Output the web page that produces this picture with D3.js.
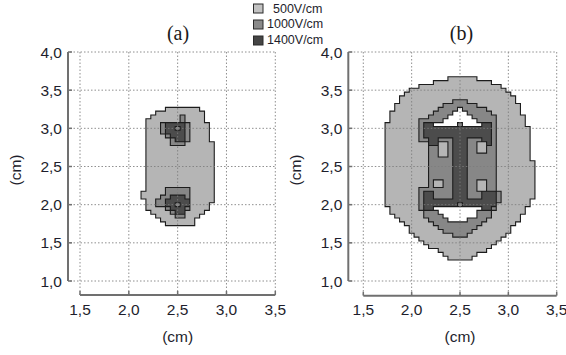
<!DOCTYPE html>
<html>
<head>
<meta charset="utf-8">
<script src="https://cdn.jsdelivr.net/npm/d3@7/dist/d3.min.js"></script>
<style>
  body { margin: 0; background: #fff; }
  svg { display: block; font-family: "Liberation Sans", Arial, sans-serif; }
</style>
</head>
<body>
<svg id="chart" width="566" height="355"></svg>
<script>
// Field-strength thresholds (legend) and axis ticks
const thresholds = ["500V/cm", "1000V/cm", "1400V/cm"];
const xTicks = [1.5, 2.0, 2.5, 3.0, 3.5];
const yTicks = [1.0, 1.5, 2.0, 2.5, 3.0, 3.5, 4.0];
const panelTitles = ["(a)", "(b)"];
const cellSize = 0.05; // cm, spacing of the computation grid

// Blocks of grid cells [xFrom, xTo, yFrom, yTo] in cm (cell centres, inclusive)
// Panel (a): two electrodes
const a500 = [
  [2.40, 2.70, 3.25, 3.25], [2.30, 2.75, 3.20, 3.20], [2.25, 2.75, 3.15, 3.15],
  [2.20, 2.75, 3.10, 3.10], [2.20, 2.80, 2.85, 3.05], [2.20, 2.85, 2.20, 2.80],
  [2.15, 2.85, 2.10, 2.15], [2.20, 2.85, 2.05, 2.05], [2.20, 2.80, 1.95, 2.00],
  [2.25, 2.75, 1.90, 1.90], [2.30, 2.70, 1.85, 1.85], [2.35, 2.65, 1.80, 1.80],
  [2.40, 2.65, 1.75, 1.75]
];
const a1000 = [
  [2.55, 2.55, 3.10, 3.15], [2.35, 2.60, 2.95, 3.05], [2.40, 2.60, 2.90, 2.90],
  [2.45, 2.60, 2.85, 2.85], [2.45, 2.55, 2.80, 2.80],
  [2.40, 2.60, 2.15, 2.20], [2.35, 2.60, 2.10, 2.10], [2.30, 2.60, 2.00, 2.05],
  [2.40, 2.60, 1.95, 1.95], [2.45, 2.55, 1.90, 1.90], [2.50, 2.55, 1.85, 1.85]
];
const a1400 = [
  [2.40, 2.55, 2.95, 3.05], [2.45, 2.55, 2.90, 2.90], [2.50, 2.55, 2.85, 2.85],
  [2.45, 2.55, 2.10, 2.10], [2.40, 2.60, 2.00, 2.05], [2.45, 2.55, 1.95, 1.95],
  [2.50, 2.55, 1.90, 1.90]
];
const aBelow500 = [];
const aPatch1000 = [[2.50, 2.50, 3.00, 3.00], [2.50, 2.50, 2.00, 2.00]];

// Panel (b): I-shaped electrode arrangement
const b500 = [
  [2.40, 2.65, 3.65, 3.65], [2.25, 2.80, 3.60, 3.60], [2.10, 2.90, 3.55, 3.55],
  [2.00, 2.95, 3.50, 3.50], [1.95, 3.00, 3.45, 3.45], [1.90, 3.05, 3.35, 3.40],
  [1.85, 3.10, 3.25, 3.30], [1.80, 3.10, 3.20, 3.20], [1.80, 3.15, 3.10, 3.15],
  [1.75, 3.15, 3.05, 3.05], [1.75, 3.20, 2.60, 3.00], [1.75, 3.25, 2.10, 2.55],
  [1.75, 3.20, 2.00, 2.05], [1.80, 3.15, 1.90, 1.95], [1.85, 3.10, 1.85, 1.85],
  [1.90, 3.10, 1.80, 1.80], [1.95, 3.05, 1.75, 1.75], [2.00, 3.00, 1.65, 1.70],
  [2.05, 2.95, 1.60, 1.60], [2.10, 2.90, 1.55, 1.55], [2.15, 2.85, 1.50, 1.50],
  [2.20, 2.80, 1.45, 1.45], [2.30, 2.75, 1.40, 1.40], [2.35, 2.65, 1.35, 1.35],
  [2.40, 2.60, 1.30, 1.30]
];
const b1000 = [
  [2.45, 2.55, 3.35, 3.35], [2.35, 2.65, 3.30, 3.30], [2.30, 2.75, 3.25, 3.25],
  [2.25, 2.80, 3.20, 3.20], [2.20, 2.85, 3.15, 3.15], [2.10, 2.85, 2.85, 3.10],
  [2.20, 2.85, 2.25, 2.80], [2.10, 2.85, 2.20, 2.20], [2.10, 2.90, 2.05, 2.15],
  [2.10, 2.85, 1.95, 2.00], [2.15, 2.80, 1.85, 1.90], [2.20, 2.75, 1.80, 1.80],
  [2.25, 2.70, 1.75, 1.75], [2.30, 2.65, 1.70, 1.70], [2.35, 2.60, 1.65, 1.65],
  [2.45, 2.55, 1.60, 1.60]
];
const b1400 = [
  [2.15, 2.20, 3.05, 3.05], [2.75, 2.80, 3.05, 3.05], [2.15, 2.80, 2.90, 3.00],
  [2.20, 2.25, 2.80, 2.85], [2.75, 2.80, 2.80, 2.85], [2.45, 2.55, 2.10, 2.85],
  [2.15, 2.20, 1.95, 2.15], [2.75, 2.85, 2.10, 2.15], [2.15, 2.85, 2.00, 2.05],
  [2.75, 2.80, 1.95, 1.95]
];
const bBelow500 = [
  [2.50, 2.50, 3.25, 3.25], [2.45, 2.55, 3.20, 3.20], [2.40, 2.60, 3.15, 3.15],
  [2.35, 2.65, 3.10, 3.10], [2.25, 2.70, 3.05, 3.05],
  [2.25, 2.70, 1.95, 1.95], [2.30, 2.65, 1.90, 1.90], [2.35, 2.65, 1.85, 1.85],
  [2.40, 2.55, 1.80, 1.80]
];
const bPatch500 = [
  [2.30, 2.35, 2.65, 2.80], [2.70, 2.75, 2.70, 2.80],
  [2.25, 2.30, 2.25, 2.30], [2.70, 2.75, 2.20, 2.30]
];
const bPatch1000 = [[2.50, 2.50, 3.05, 3.05], [2.50, 2.50, 2.00, 2.00]];

const fills = ["none", "#b5b5b5", "#878787", "#4c4c4c"];
const legendFills = ["#c2c2c2", "#8a8a8a", "#454545"];

const svg = d3.select("#chart");
const fmt = d3.formatLocale({decimal: ",", thousands: ".", grouping: [3], currency: ["", ""]}).format(".1f");

const panels = [
  { title: panelTitles[0], x: [80, 275.3], yAxisX: 68, xAxisY: 295, titleX: 178, yLabelX: 21,
    layers: [[a500, 1], [a1000, 2], [a1400, 3], [aBelow500, 0], [aPatch1000, 2]] },
  { title: panelTitles[1], x: [363.3, 556.7], yAxisX: 348.3, xAxisY: 295.7, titleX: 461.5, yLabelX: 301,
    layers: [[b500, 1], [b1000, 2], [b1400, 3], [bBelow500, 0], [bPatch500, 1], [bPatch1000, 2]] }
];

const x0 = 1.5, y0 = 1.0;
const nx = Math.round((3.5 - x0) / cellSize) + 1;
const ny = Math.round((4.0 - y0) / cellSize) + 1;

panels.forEach(p => {
  const xs = d3.scaleLinear().domain([1.5, 3.5]).range(p.x);
  const ys = d3.scaleLinear().domain([1.0, 4.0]).range([281, 52]);
  const g = svg.append("g");

  // rasterise the level blocks onto the grid
  const grid = Array.from({length: nx}, () => new Array(ny).fill(0));
  p.layers.forEach(([blocks, level]) => {
    blocks.forEach(([xa, xb, ya, yb]) => {
      const i0 = Math.round((xa - x0) / cellSize), i1 = Math.round((xb - x0) / cellSize);
      const j0 = Math.round((ya - y0) / cellSize), j1 = Math.round((yb - y0) / cellSize);
      for (let i = i0; i <= i1; i++) for (let j = j0; j <= j1; j++) grid[i][j] = level;
    });
  });
  const lev = (i, j) => (i < 0 || j < 0 || i >= nx || j >= ny) ? 0 : grid[i][j];
  const cx = i => x0 + i * cellSize, cy = j => y0 + j * cellSize, h = cellSize / 2;

  const cells = [];
  for (let i = 0; i < nx; i++) for (let j = 0; j < ny; j++) if (grid[i][j] > 0) cells.push({i, j, v: grid[i][j]});

  g.append("g").attr("shape-rendering", "crispEdges")
    .selectAll("rect").data(cells).join("rect")
    .attr("x", d => xs(cx(d.i) - h))
    .attr("width", d => xs(cx(d.i) + h) - xs(cx(d.i) - h))
    .attr("y", d => ys(cy(d.j) + h))
    .attr("height", d => ys(cy(d.j) - h) - ys(cy(d.j) + h))
    .attr("fill", d => fills[d.v]);

  // contour outlines: edges between cells of different level
  const path = d3.path();
  for (let i = -1; i < nx; i++) for (let j = -1; j < ny; j++) {
    const v = lev(i, j);
    if (v !== lev(i + 1, j)) { path.moveTo(xs(cx(i) + h), ys(cy(j) - h)); path.lineTo(xs(cx(i) + h), ys(cy(j) + h)); }
    if (v !== lev(i, j + 1)) { path.moveTo(xs(cx(i) - h), ys(cy(j) + h)); path.lineTo(xs(cx(i) + h), ys(cy(j) + h)); }
  }
  g.append("path").attr("d", path.toString()).attr("fill", "none")
    .attr("stroke", "#1c1c1c").attr("stroke-width", 1.1).attr("stroke-linecap", "square");

  // dotted grid
  const grd = g.append("g").attr("stroke", "#7d7d7d").attr("stroke-width", 1)
    .attr("stroke-dasharray", "1.5,2").attr("opacity", 0.85);
  grd.selectAll("line.v").data(xTicks).join("line").attr("class", "v")
    .attr("x1", d => xs(d)).attr("x2", d => xs(d)).attr("y1", ys(4.0)).attr("y2", p.xAxisY);
  grd.selectAll("line.h").data(yTicks).join("line").attr("class", "h")
    .attr("x1", p.yAxisX + 2).attr("x2", xs(3.5)).attr("y1", d => ys(d)).attr("y2", d => ys(d));

  // axes
  const ax = g.append("g").attr("stroke", "#707070").attr("stroke-width", 2).attr("fill", "none");
  ax.append("line").attr("x1", p.yAxisX).attr("x2", p.yAxisX).attr("y1", ys(4.0)).attr("y2", ys(1.0));
  ax.selectAll("line.yt").data(yTicks).join("line").attr("class", "yt")
    .attr("x1", p.yAxisX).attr("x2", p.yAxisX + 4).attr("y1", d => ys(d)).attr("y2", d => ys(d)).attr("stroke-width", 1.5);
  ax.append("line").attr("x1", xs(1.5)).attr("x2", xs(3.5)).attr("y1", p.xAxisY).attr("y2", p.xAxisY);
  ax.selectAll("line.xt").data(xTicks).join("line").attr("class", "xt")
    .attr("x1", d => xs(d)).attr("x2", d => xs(d)).attr("y1", p.xAxisY).attr("y2", p.xAxisY - 4).attr("stroke-width", 1.5);

  // tick labels
  g.selectAll("text.yl").data(yTicks).join("text").attr("class", "yl")
    .attr("x", p.yAxisX - 6).attr("y", d => ys(d) + 5.5).attr("text-anchor", "end")
    .attr("font-size", 15.5).attr("fill", "#1e1e2c").text(d => fmt(d));
  g.selectAll("text.xl").data(xTicks).join("text").attr("class", "xl")
    .attr("x", d => xs(d)).attr("y", 315).attr("text-anchor", "middle")
    .attr("font-size", 15.5).attr("fill", "#1e1e2c").text(d => fmt(d));

  // axis titles and panel title
  g.append("text").attr("x", xs(2.5)).attr("y", 342).attr("text-anchor", "middle")
    .attr("font-size", 15.5).attr("fill", "#1e1e2c").text("(cm)");
  g.append("text").attr("transform", `translate(${p.yLabelX},170) rotate(-90)`)
    .attr("text-anchor", "middle").attr("font-size", 15.5).attr("fill", "#1e1e2c").text("(cm)");
  g.append("text").attr("x", p.titleX).attr("y", 40).attr("text-anchor", "middle")
    .attr("font-family", "'Liberation Serif', 'Times New Roman', serif")
    .attr("font-size", 20).attr("fill", "#1a1a1a").text(p.title);
});

// legend
const lg = svg.append("g");
thresholds.forEach((t, k) => {
  lg.append("rect").attr("x", 253.5).attr("y", 4 + k * 16).attr("width", 9.5).attr("height", 9)
    .attr("fill", legendFills[k]).attr("stroke", "#2a2a2a").attr("stroke-width", 1);
  lg.append("text").attr("x", k === 0 ? 273 : 267).attr("y", 12.7 + k * 15.7)
    .attr("font-size", 12.5).attr("fill", "#1e1e2c").text(t);
});
</script>
</body>
</html>
